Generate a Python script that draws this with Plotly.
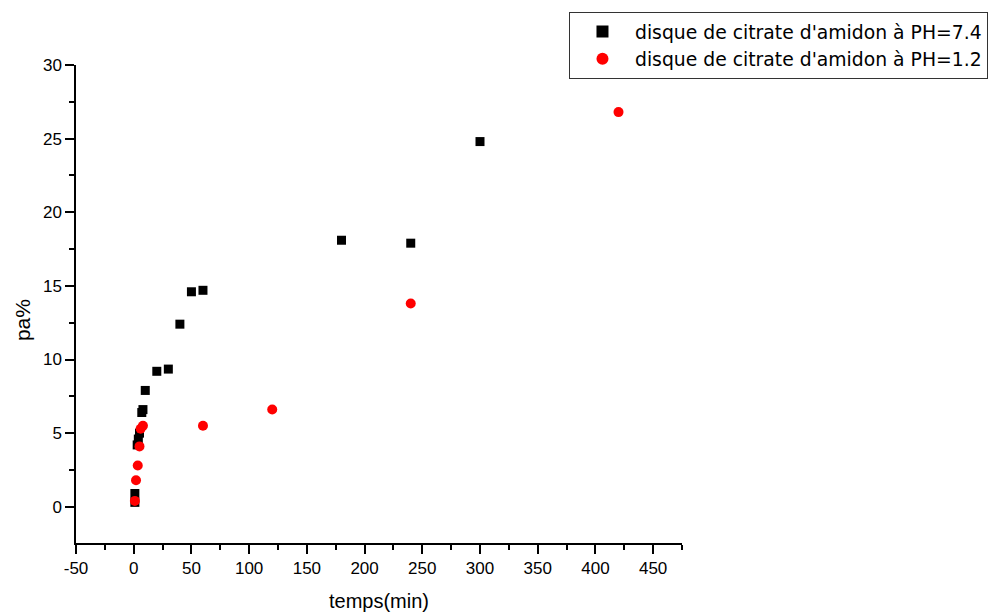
import plotly.graph_objects as go

# Release data: time (min) vs released fraction pa%
t_ph74 = [1, 1, 3, 4, 5, 7, 8, 10, 20, 30, 40, 50, 60, 180, 240, 300]
pa_ph74 = [0.3, 0.9, 4.2, 4.6, 5.0, 6.4, 6.6, 7.9, 9.2, 9.35, 12.4, 14.6, 14.7, 18.1, 17.9, 24.8]

t_ph12 = [1, 2, 3.5, 5, 6, 8, 60, 120, 240, 420]
pa_ph12 = [0.4, 1.8, 2.8, 4.1, 5.3, 5.5, 5.5, 6.6, 13.8, 26.8]

name_ph74 = "disque de citrate d'amidon à PH=7.4"
name_ph12 = "disque de citrate d'amidon à PH=1.2"

x_ticks = [-50, 0, 50, 100, 150, 200, 250, 300, 350, 400, 450]
y_ticks = [0, 5, 10, 15, 20, 25, 30]

fig = go.Figure()
fig.add_trace(go.Scatter(
    x=t_ph74, y=pa_ph74, mode="markers", name=name_ph74,
    marker=dict(symbol="square", size=9, color="black", line=dict(width=0)),
))
fig.add_trace(go.Scatter(
    x=t_ph12, y=pa_ph12, mode="markers", name=name_ph12,
    marker=dict(symbol="circle", size=10, color="#ff0000", line=dict(width=0)),
))

axis_font = dict(family="Liberation Sans, Arial, sans-serif", size=17, color="black")
title_font = dict(family="Liberation Sans, Arial, sans-serif", size=20, color="black")

fig.update_layout(
    width=1008, height=612,
    margin=dict(l=76, r=326, t=65, b=69),
    paper_bgcolor="white", plot_bgcolor="white",
    showlegend=True,
    legend=dict(
        x=0.8135, y=1.1115, xanchor="left", yanchor="top",
        bordercolor="#333333", borderwidth=1, bgcolor="white",
        font=dict(family="DejaVu Sans, sans-serif", size=18.8, color="black"),
        tracegroupgap=0, itemsizing="constant", itemwidth=55,
    ),
    xaxis=dict(
        range=[-50, 475], tickvals=x_ticks, ticktext=[str(v) for v in x_ticks],
        showline=True, linecolor="black", linewidth=1.5, mirror=False,
        ticks="outside", ticklen=9, tickwidth=1.5, tickcolor="black",
        minor=dict(dtick=25, tick0=0, ticks="outside", ticklen=5, tickwidth=1.5, tickcolor="black"),
        showgrid=False, zeroline=False, tickfont=axis_font, automargin=False,
        title=dict(text="temps(min)", font=title_font, standoff=20),
    ),
    yaxis=dict(
        range=[-2.46, 30], tickvals=y_ticks, ticktext=[str(v) for v in y_ticks],
        showline=True, linecolor="black", linewidth=1.5, mirror=False,
        ticks="outside", ticklen=9, tickwidth=1.5, tickcolor="black",
        minor=dict(dtick=2.5, tick0=0, ticks="outside", ticklen=5, tickwidth=1.5, tickcolor="black"),
        showgrid=False, zeroline=False, tickfont=axis_font, automargin=False,
    ),
    annotations=[dict(
        text="pa%", textangle=-90, showarrow=False,
        xref="paper", yref="paper", x=-0.089, y=0.4665,
        xanchor="center", yanchor="middle",
        font=dict(family="Liberation Sans, Arial, sans-serif", size=21, color="black"),
    )],
)

fig.write_html("out.html")
